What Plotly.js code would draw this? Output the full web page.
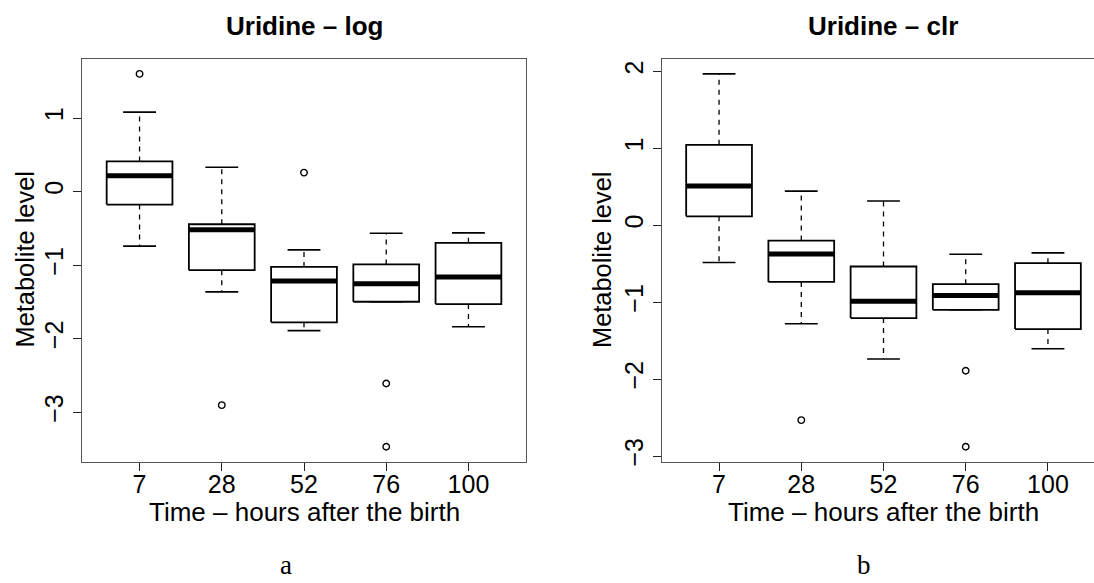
<!DOCTYPE html>
<html>
<head>
<meta charset="utf-8">
<script src="https://cdn.plot.ly/plotly-3.0.1.min.js"></script>
<style>
html,body{margin:0;padding:0;background:#fff;overflow:hidden;}
#chart{width:1094px;height:583px;}
</style>
</head>
<body>
<div id="chart"></div>
<script>
// ---- Data ----
const categories = ['7', '28', '52', '76', '100'];

// Panel a: Uridine - log
const logLowWhisker  = [-0.742, -1.363, -1.891, -1.498, -1.837];
const logQ1          = [-0.176, -1.069, -1.778, -1.498, -1.529];
const logMedian      = [ 0.217, -0.519, -1.217, -1.254, -1.163];
const logQ3          = [ 0.410, -0.444, -1.024, -0.991, -0.697];
const logHighWhisker = [ 1.080,  0.330, -0.792, -0.566, -0.562];
const logOutlierCat  = [1, 2, 3, 4, 4];
const logOutlierVal  = [1.600, -2.904, 0.258, -2.610, -3.470];

// Panel b: Uridine - clr
const clrLowWhisker  = [-0.485, -1.281, -1.739, -1.100, -1.605];
const clrQ1          = [ 0.115, -0.737, -1.207, -1.100, -1.350];
const clrMedian      = [ 0.508, -0.373, -0.987, -0.913, -0.879];
const clrQ3          = [ 1.045, -0.200, -0.537, -0.766, -0.494];
const clrHighWhisker = [ 1.966,  0.443,  0.314, -0.377, -0.360];
const clrOutlierCat  = [2, 4, 4];
const clrOutlierVal  = [-2.534, -1.891, -2.880];

const titles = ['Uridine – log', 'Uridine – clr'];
const xTitle = 'Time – hours after the birth';
const yTitle = 'Metabolite level';
const subLabels = ['a', 'b'];

// ---- Build R-style boxplot traces ----
function boxTraces(lw, q1, med, q3, hw, outCat, outVal, xa, ya) {
  const half = 0.4, staple = 0.2;
  const wx = [], wy = [], sx = [], sy = [], bx = [], by = [], mx = [], my = [];
  categories.forEach((c, k) => {
    const i = k + 1;
    wx.push(i, i, null, i, i, null);
    wy.push(q3[k], hw[k], null, q1[k], lw[k], null);
    sx.push(i - staple, i + staple, null, i - staple, i + staple, null);
    sy.push(hw[k], hw[k], null, lw[k], lw[k], null);
    bx.push(i - half, i + half, i + half, i - half, i - half, null);
    by.push(q1[k], q1[k], q3[k], q3[k], q1[k], null);
    mx.push(i - half, i + half, null);
    my.push(med[k], med[k], null);
  });
  const base = {type: 'scatter', mode: 'lines', xaxis: xa, yaxis: ya, hoverinfo: 'skip', showlegend: false};
  return [
    Object.assign({}, base, {x: wx, y: wy, line: {color: '#000', width: 1.3, dash: '5px,5px'}}),
    Object.assign({}, base, {x: sx, y: sy, line: {color: '#000', width: 1.6}}),
    Object.assign({}, base, {x: bx, y: by, line: {color: '#000', width: 1.8}}),
    Object.assign({}, base, {x: mx, y: my, line: {color: '#000', width: 5}}),
    {type: 'scatter', mode: 'markers', xaxis: xa, yaxis: ya, hoverinfo: 'skip', showlegend: false,
     x: outCat, y: outVal,
     marker: {symbol: 'circle-open', size: 6.5, color: '#000', line: {width: 1.4, color: '#000'}}}
  ];
}

function rRange(arrs) {
  const all = [].concat(...arrs);
  const mn = Math.min(...all), mx = Math.max(...all);
  const pad = (mx - mn) * 0.04;
  return [mn - pad, mx + pad];
}

const traces = [].concat(
  boxTraces(logLowWhisker, logQ1, logMedian, logQ3, logHighWhisker, logOutlierCat, logOutlierVal, 'x', 'y'),
  boxTraces(clrLowWhisker, clrQ1, clrMedian, clrQ3, clrHighWhisker, clrOutlierCat, clrOutlierVal, 'x2', 'y2')
);

const W = 1094, H = 583;
const font = 'Liberation Sans, Arial, Helvetica, sans-serif';
const tickFont = {family: font, size: 25, color: '#000'};

const xCommon = {
  tickmode: 'array', tickvals: [1, 2, 3, 4, 5], ticktext: categories,
  ticks: 'outside', ticklen: 8, tickwidth: 1, tickcolor: '#222',
  ticklabelstandoff: -8,
  showgrid: false, zeroline: false, showline: true, linecolor: '#555', linewidth: 1,
  tickfont: tickFont, fixedrange: true
};
const yCommon = {
  ticks: 'outside', ticklen: 8, tickwidth: 1, tickcolor: '#222', dtick: 1, tick0: 0,
  showgrid: false, zeroline: false, showline: true, linecolor: '#555', linewidth: 1,
  tickfont: tickFont, tickangle: -90, fixedrange: true
};

const yDom = [1 - 461.7 / H, 1 - 59 / H];
const pxPerUnit = (526 - 82) / 5.4;
const rightEndUnits = 0.3 + (W - 661.5) / pxPerUnit;

const ann = (text, px, py, size, extra) => Object.assign({
  text: text, x: px / W, y: 1 - py / H, xref: 'paper', yref: 'paper',
  xanchor: 'center', yanchor: 'middle', showarrow: false,
  font: {family: font, size: size, color: '#000'}
}, extra || {});

const serif = {family: 'Liberation Serif, DejaVu Serif, serif', size: 27, color: '#000'};

const layout = {
  width: W, height: H,
  margin: {l: 0, r: 0, t: 0, b: 0},
  paper_bgcolor: '#fff', plot_bgcolor: '#fff',
  showlegend: false,
  xaxis: Object.assign({}, xCommon, {domain: [82 / W, 526 / W], range: [0.3, 5.7], anchor: 'y', mirror: true}),
  yaxis: Object.assign({}, yCommon, {domain: yDom, range: rRange([logLowWhisker, logHighWhisker, logOutlierVal]), anchor: 'x', mirror: true}),
  xaxis2: Object.assign({}, xCommon, {domain: [661.5 / W, 1], range: [0.3, rightEndUnits], anchor: 'y2', mirror: true}),
  yaxis2: Object.assign({}, yCommon, {domain: yDom, range: rRange([clrLowWhisker, clrHighWhisker, clrOutlierVal]), anchor: 'x2', mirror: false}),
  annotations: [
    ann('<b>' + titles[0] + '</b>', 304, 26, 26),
    ann('<b>' + titles[1] + '</b>', 883, 26, 26),
    ann(xTitle, 304, 512, 26),
    ann(xTitle, 883, 512, 26),
    ann(yTitle, 24.5, 260, 25.4, {textangle: -90}),
    ann(yTitle, 602, 260, 25.4, {textangle: -90}),
    {text: subLabels[0], x: 286 / W, y: 0, xref: 'paper', yref: 'paper', xanchor: 'center', yanchor: 'bottom', yshift: 1, showarrow: false, font: serif},
    {text: subLabels[1], x: 864 / W, y: 0, xref: 'paper', yref: 'paper', xanchor: 'center', yanchor: 'bottom', yshift: 1, showarrow: false, font: serif}
  ]
};

Plotly.newPlot('chart', traces, layout, {staticPlot: true, displayModeBar: false});
</script>
</body>
</html>
